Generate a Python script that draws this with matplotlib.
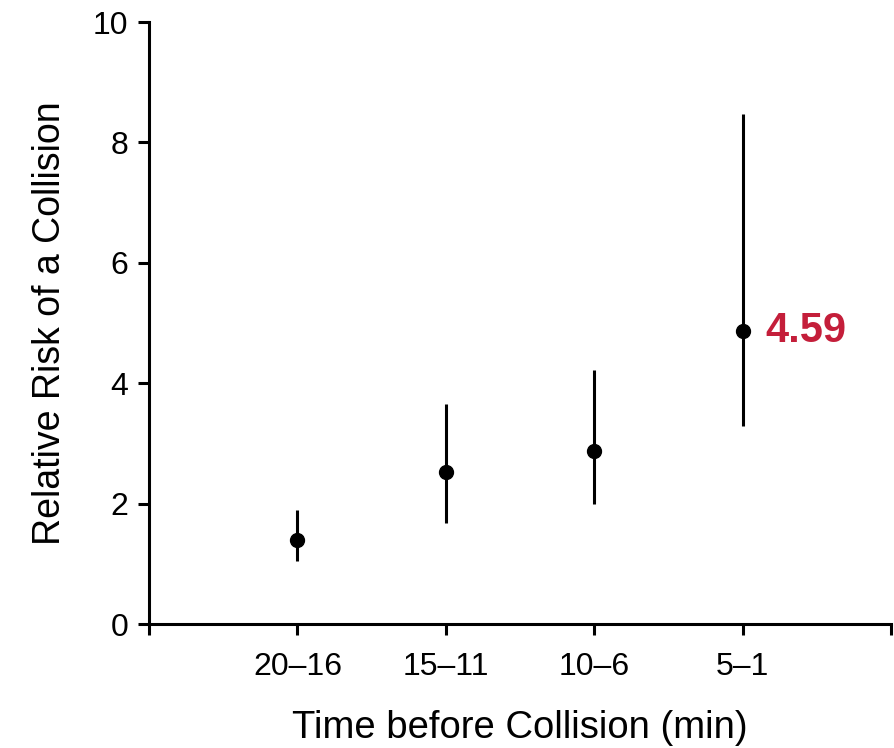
import matplotlib
matplotlib.use("Agg")
import matplotlib.pyplot as plt

categories = ["20\u201316", "15\u201311", "10\u20136", "5\u20131"]
risk = [1.40, 2.52, 2.87, 4.87]
lower = [1.05, 1.68, 1.99, 3.29]
upper = [1.89, 3.65, 4.22, 8.47]
annotation = "4.59"

plt.rcParams['font.family'] = ['Liberation Sans', 'DejaVu Sans']

fig = plt.figure(figsize=(8.94, 7.48), dpi=100)
ax = fig.add_axes([149/894, 1-624/748, (891-149)/894, (624-22)/748])

x = list(range(1, len(categories) + 1))
yerr = [[r - l for r, l in zip(risk, lower)], [u - r for r, u in zip(risk, upper)]]
ax.errorbar(x, risk, yerr=yerr, fmt='o', color='black', ecolor='black',
            elinewidth=2.2, markersize=10, capsize=0, zorder=3)

ax.text(x[-1] + 0.155, risk[-1], annotation, color='#C41E3A', fontsize=30,
        fontweight='bold', va='center', ha='left')

ax.set_xlim(0, 5)
ax.set_ylim(0, 10)
ax.set_xticks([0] + x + [5])
ax.set_xticklabels([''] + categories + [''])
ax.set_yticks([0, 2, 4, 6, 8, 10])

for s in ['top', 'right']:
    ax.spines[s].set_visible(False)
for s in ['left', 'bottom']:
    ax.spines[s].set_linewidth(2.2)

ax.tick_params(axis='both', direction='out', length=8, width=2.2, labelsize=23,
               colors='black')
ax.tick_params(axis='x', pad=12)
ax.tick_params(axis='y', pad=7)
ax.set_xlabel("Time before Collision (min)", fontsize=27.5, labelpad=20)
ax.set_ylabel("Relative Risk of a Collision", fontsize=27, labelpad=18)

fig.savefig("out.png", dpi=100)
